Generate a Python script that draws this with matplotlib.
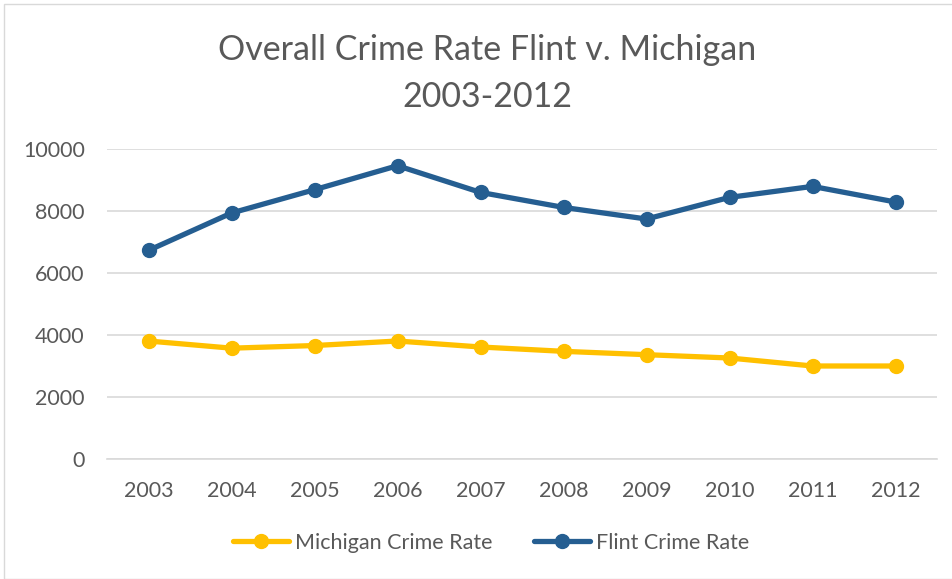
import matplotlib
matplotlib.use("Agg")
import matplotlib.pyplot as plt
from matplotlib.patches import Rectangle

plt.rcParams['font.family'] = ['Lato', 'DejaVu Sans']

years = ['2003', '2004', '2005', '2006', '2007', '2008', '2009', '2010', '2011', '2012']
michigan = [3806, 3575, 3660, 3806, 3613, 3473, 3365, 3258, 3000, 3000]
flint = [6729, 7935, 8687, 9461, 8600, 8116, 7742, 8439, 8794, 8290]

txt = '#595959'
fig = plt.figure(figsize=(9.52, 5.79), dpi=100)
fig.patches.append(Rectangle((4 / 952, 0), 1, 1 - 4 / 579, transform=fig.transFigure,
                             fill=False, edgecolor='#d9d9d9', linewidth=1))
ax = fig.add_axes([107 / 952, 1 - 459 / 579, 830 / 952, 310 / 579])

x = list(range(len(years)))
ax.plot(x, michigan, color='#FFC000', lw=3.8, marker='o', ms=10, label='Michigan Crime Rate',
        solid_capstyle='round')
ax.plot(x, flint, color='#255E91', lw=3.8, marker='o', ms=10, label='Flint Crime Rate',
        solid_capstyle='round')

ax.set_xlim(-0.5, len(years) - 0.5)
ax.set_ylim(0, 10000)
ax.set_yticks(range(0, 10001, 2000))
ax.set_xticks(x)
ax.set_xticklabels(years)
ax.grid(axis='y', color='#d9d9d9', lw=1.2)
ax.set_axisbelow(True)
for s in ['top', 'right', 'left']:
    ax.spines[s].set_visible(False)
ax.spines['bottom'].set_color('#d9d9d9')
ax.spines['bottom'].set_linewidth(1.2)
ax.tick_params(length=0, labelsize=15.5, colors=txt)
ax.tick_params(axis='x', pad=16)
ax.tick_params(axis='y', pad=16)

fig.text(487 / 952, 1 - 50 / 579, 'Overall Crime Rate Flint v. Michigan', ha='center', va='center',
         fontsize=24.5, color=txt)
fig.text(487 / 952, 1 - 97 / 579, '2003-2012', ha='center', va='center', fontsize=24.5, color=txt)

fig.legend(loc='center', bbox_to_anchor=(0.516, 1 - 543 / 579), ncol=2, frameon=False,
           fontsize=15.5, labelcolor=txt, handlelength=2.6, handletextpad=0.3, columnspacing=1.9)

fig.savefig('out.png', dpi=100)
